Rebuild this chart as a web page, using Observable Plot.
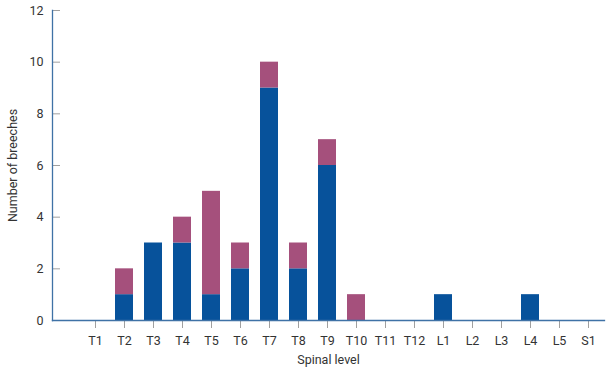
<!DOCTYPE html>
<html>
<head>
<meta charset="utf-8">
<script src="https://cdn.jsdelivr.net/npm/d3@7"></script>
<script src="https://cdn.jsdelivr.net/npm/@observablehq/plot@0.6"></script>
<style>
  html, body { margin: 0; padding: 0; background: #fff; }
  #chart svg { display: block; }
</style>
</head>
<body>
<div id="chart"></div>
<script>
const levels = ["T1","T2","T3","T4","T5","T6","T7","T8","T9","T10","T11","T12","L1","L2","L3","L4","L5","S1"];
const seriesA = [0,1,3,3,1,2,9,2,6,0,0,0,1,0,0,1,0,0];
const seriesB = [0,1,0,1,4,1,1,1,1,1,0,0,0,0,0,0,0,0];
const yTicks = [0,2,4,6,8,10,12];

const rows = [];
levels.forEach((l, i) => {
  rows.push({level: l, series: "A", value: seriesA[i]});
  rows.push({level: l, series: "B", value: seriesB[i]});
});

const font = "'Roboto', sans-serif";
const axisBlue = "#3f72a6";
const tickGray = "#a0a0a0";

const chart = Plot.plot({
  width: 606,
  height: 368,
  marginLeft: 52,
  marginRight: 2,
  marginTop: 10,
  marginBottom: 48,
  style: {fontFamily: font, fontSize: "12.5px", color: "#333", background: "#fff"},
  x: {domain: levels, range: [79.5, 603.5], paddingInner: 0.38, paddingOuter: 0.19},
  y: {domain: [0, 12]},
  color: {domain: ["A", "B"], range: ["#07529b", "#a5507c"]},
  marks: [
    Plot.barY(rows, {x: "level", y: "value", fill: "series", order: ["A", "B"]}),
    Plot.axisY({ticks: yTicks, tickSize: 8, dx: 8, text: null, stroke: tickGray, label: null}),
    Plot.axisY({ticks: yTicks, tickSize: 0, tickPadding: 9, fill: "#333", fontSize: 12.5,
      label: "Number of breeches", labelAnchor: "center", labelOffset: 44, labelArrow: "none"}),
    Plot.axisX({tickSize: 8, tickPadding: 8, stroke: tickGray, fill: "#333", fontSize: 12.5,
      label: "Spinal level", labelAnchor: "center", labelOffset: 43, labelArrow: "none"}),
    Plot.frame({anchor: "left", stroke: axisBlue, strokeWidth: 1.3}),
    Plot.frame({anchor: "bottom", stroke: axisBlue, strokeWidth: 1.3})
  ]
});
document.getElementById("chart").appendChild(chart);
</script>
</body>
</html>
